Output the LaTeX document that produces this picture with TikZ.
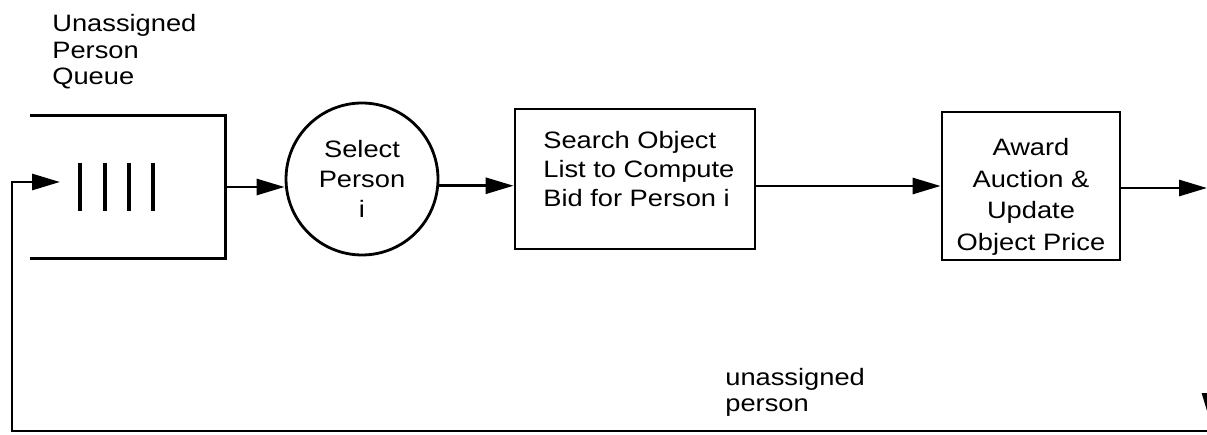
\documentclass[tikz,border=0pt]{standalone}
\usepackage{fontspec}
\setmainfont[FakeStretch=1.15]{Liberation Sans}
\usepackage{tikz}
\usetikzlibrary{positioning,
                calc,
                arrows.meta}
\tikzset{flow/.style = {line width=1.6pt,
                     -{Triangle[length=5.6mm,width=3.2mm]}
                    },
         procbox/.style = {
                     draw, line width=1.6pt,
                     inner sep=0pt
         },
         selectnode/.style = {
                     circle, draw, line width=1.6pt,
                     minimum size=3.04cm,
                     align=center,
                     font=\fontsize{13.5}{17}\selectfont
         },
         boxtext/.style = {
                     inner sep=0pt,
                     font=\fontsize{13.5}{16.5}\selectfont
         }
        }

\begin{document}
\begin{tikzpicture}[x=0.02cm,y=-0.02cm]
        \useasboundingbox (0,0) rectangle (1207,435);
        \clip (0,0) rectangle (1207,435);

        % the queue, open on its left side
        \node[inner sep=0pt,minimum width=3.9cm,minimum height=2.84cm] (queue) at (128,187) {};
        \draw[line width=1.6pt] (queue.north west) -- (queue.north east)
                               -- (queue.south east) -- (queue.south west);
        \foreach \x in {80,105,129,153}
            \draw[line width=1.8pt] (\x,163) -- (\x,211);
        \node[boxtext,anchor=north west,align=left,font=\fontsize{13.5}{15.2}\selectfont]
            (queuelabel) at (52,14) {Unassigned\\Person\\Queue};

        \node[selectnode] (select) at (362,179) {Select\\Person\\i};
        \node[procbox,minimum width=4.8cm,minimum height=2.8cm] (search) at (635,179) {};
        \node[boxtext,anchor=north west,align=left] (searchtext) at (543,131)
            {Search Object\\List to Compute\\Bid for Person i};
        \node[procbox,minimum width=3.56cm,minimum height=2.96cm] (award) at (1031,186) {};
        \node[boxtext,anchor=north,align=center,font=\fontsize{13.5}{18}\selectfont]
            (awardtext) at (1031,138) {Award\\Auction \&\\Update\\Object Price};

        \coordinate (outend) at (1207,188);
        \coordinate (loopfrom) at (1230,431);
        \coordinate (loopcorner) at (12,431);
        \coordinate (backin) at (60,182);
        \coordinate (downfrom) at (1210,330);
        \coordinate (downto) at (1210,421);

        \draw[flow] (queue.east) -- (queue.east -| select.west);
        \draw[flow] (select.-5) -- (select.-5 -| search.west);
        \draw[flow] (search.east |- award.west) -- (award.west);
        \draw[flow] (award.east |- outend) -- (outend);

        % path back for a person who is not assigned
        \draw[flow] (loopfrom) -- (loopcorner) |- (backin);
        \draw[flow] (downfrom) -- (downto);
        \node[boxtext,anchor=north west,align=left,font=\fontsize{13.5}{15}\selectfont]
            (backlabel) at (725,368) {unassigned\\person};
    \end{tikzpicture}
\end{document}
